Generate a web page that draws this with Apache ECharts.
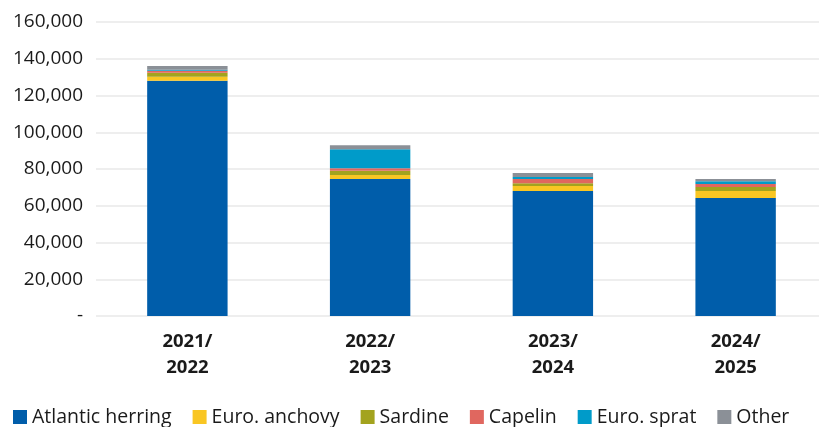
<!DOCTYPE html>
<html>
<head>
<meta charset="utf-8">
<script src="https://cdn.jsdelivr.net/npm/echarts@6/dist/echarts.min.js"></script>
<style>
  html, body { margin: 0; padding: 0; background: #fff; }
  #chart { width: 819px; height: 427px; }
</style>
</head>
<body>
<div id="chart"></div>
<script>
// seasons on the x axis
const seasons = ['2021/\n2022', '2022/\n2023', '2023/\n2024', '2024/\n2025'];

// values (tonnes)
const atlanticHerring = [128000, 74500, 68000, 64200];
const euroAnchovy = [2200, 2200, 2700, 3800];
const sardine = [2200, 2300, 1600, 2200];
const capelin = [1100, 1450, 2200, 1600];
const euroSprat = [500, 10300, 1100, 1600];
const other = [2000, 2200, 2200, 1100];

const seriesNames = ['Atlantic herring', 'Euro. anchovy', 'Sardine', 'Capelin', 'Euro. sprat', 'Other'];
const seriesData = [atlanticHerring, euroAnchovy, sardine, capelin, euroSprat, other];
const colors = ['#005DAA', '#F9C623', '#A3A31E', '#E0675F', '#009BC9', '#8B9097'];

const font = 'Open Sans';

let myChart = echarts.init(document.getElementById('chart'));
let option = {
  animation: false,
  color: colors,
  grid: { left: 96, top: 22, width: 731, height: 294, containLabel: false, outerBoundsMode: 'none' },
  legend: {
    left: 8,
    top: 402,
    itemWidth: 14,
    itemHeight: 14,
    itemGap: 21,
    icon: 'rect',
    textStyle: { fontFamily: font, fontSize: 19.5, color: '#1a1a1a' },
    data: seriesNames
  },
  xAxis: {
    type: 'category',
    data: seasons,
    axisLine: { show: false },
    axisTick: { show: false },
    axisLabel: {
      fontFamily: font,
      fontSize: 18.5,
      fontWeight: 'bold',
      color: '#1a1a1a',
      lineHeight: 26,
      margin: 13
    }
  },
  yAxis: {
    type: 'value',
    min: 0,
    max: 160000,
    interval: 20000,
    axisLine: { show: false },
    axisTick: { show: false },
    splitLine: { lineStyle: { color: '#e9e9e9', width: 1.5 } },
    axisLabel: {
      fontFamily: font,
      fontSize: 19,
      color: '#1a1a1a',
      margin: 13,
      formatter: function (v) {
        return v === 0 ? '-' : v.toLocaleString('en-US');
      }
    }
  },
  series: seriesNames.map(function (name, i) {
    return {
      name: name,
      type: 'bar',
      stack: 'total',
      barWidth: '44%',
      data: seriesData[i]
    };
  })
};
myChart.setOption(option);
</script>
</body>
</html>
